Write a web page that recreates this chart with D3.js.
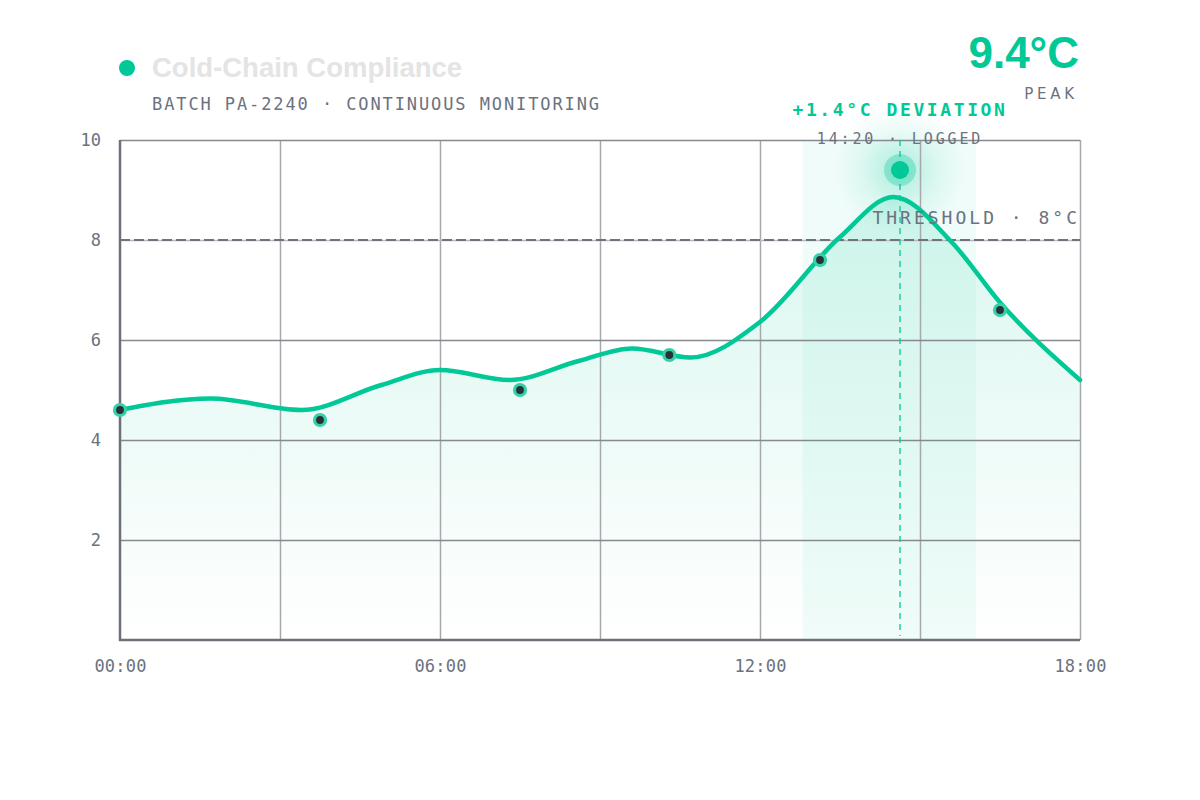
<!DOCTYPE html>
<html>
<head>
<meta charset="utf-8">
<script src="https://cdn.jsdelivr.net/npm/d3@7/dist/d3.min.js"></script>
<style>
  html, body { margin: 0; padding: 0; background: #ffffff; }
  svg { display: block; }
  .mono { font-family: "DejaVu Sans Mono", monospace; }
</style>
</head>
<body>
<svg id="chart" width="1200" height="800"></svg>
<script>
// ---- data ----
const trendHours  = [0, 1.7, 3.4, 4.9, 6.0, 7.3, 8.6, 9.6, 10.7, 12.0, 13.5, 14.5, 15.6, 16.5, 18];
const trendTemps  = [4.6, 4.83, 4.6, 5.1, 5.4, 5.2, 5.58, 5.83, 5.65, 6.36, 8.06, 8.86, 7.95, 6.75, 5.2];
const readingHours = [0, 3.75, 7.5, 10.3, 13.125, 16.5];
const readingTemps = [4.6, 4.4, 5.0, 5.7, 7.6, 6.6];
const peakHour = 14.625;
const peakTemp = 9.4;
const threshold = 8;
const bandStart = 12.8;
const bandEnd = 16.05;
const xTickHours = [0, 6, 12, 18];
const xTickLabels = ["00:00", "06:00", "12:00", "18:00"];
const xGridHours = [3, 6, 9, 12, 15, 18];
const yTickValues = [2, 4, 6, 8, 10];
const yGridValues = [2, 4, 6, 8, 10];
const titleText = "Cold-Chain Compliance";
const subtitleText = "BATCH PA-2240 · CONTINUOUS MONITORING";
const peakLabel = "9.4°C";
const peakSub = "PEAK";
const deviationText = "+1.4°C DEVIATION";
const loggedText = "14:20 · LOGGED";
const thresholdText = "THRESHOLD · 8°C";

const GREEN = "#00c896";
const GRAY_TEXT = "#6b7280";

const svg = d3.select("#chart");
const x = d3.scaleLinear().domain([0, 18]).range([120, 1080]);
const y = d3.scaleLinear().domain([0, 10]).range([640, 140]);

const defs = svg.append("defs");
const ag = defs.append("linearGradient").attr("id", "areaGrad")
  .attr("gradientUnits", "userSpaceOnUse").attr("x1", 0).attr("x2", 0)
  .attr("y1", y(10)).attr("y2", y(0));
ag.append("stop").attr("offset", "0%").attr("stop-color", GREEN).attr("stop-opacity", 0.17);
ag.append("stop").attr("offset", "100%").attr("stop-color", GREEN).attr("stop-opacity", 0.0);

const glow = defs.append("radialGradient").attr("id", "glow");
glow.append("stop").attr("offset", "0%").attr("stop-color", GREEN).attr("stop-opacity", 0.28);
glow.append("stop").attr("offset", "60%").attr("stop-color", GREEN).attr("stop-opacity", 0.08);
glow.append("stop").attr("offset", "100%").attr("stop-color", GREEN).attr("stop-opacity", 0);

const trend = trendHours.map((h, i) => ({h, v: trendTemps[i]}));
const readings = readingHours.map((h, i) => ({h, v: readingTemps[i]}));

// band
svg.append("rect")
  .attr("x", x(bandStart)).attr("y", y(10))
  .attr("width", x(bandEnd) - x(bandStart)).attr("height", y(0) - y(10))
  .attr("fill", GREEN).attr("fill-opacity", 0.06);

// area
const area = d3.area().curve(d3.curveMonotoneX)
  .x(d => x(d.h)).y0(y(0)).y1(d => y(d.v));
svg.append("path").datum(trend).attr("d", area).attr("fill", "url(#areaGrad)");

// glow
svg.append("circle").attr("cx", x(peakHour)).attr("cy", y(peakTemp)).attr("r", 66)
  .attr("fill", "url(#glow)");

// vertical grid
svg.append("g").attr("transform", `translate(0,${y(0)})`)
  .call(d3.axisBottom(x).tickValues(xGridHours).tickSize(-(y(0) - y(10))).tickFormat(""))
  .call(g => g.select(".domain").remove())
  .call(g => g.selectAll(".tick line").attr("stroke", "#a6a8ac").attr("stroke-width", 1.5));

// horizontal grid
svg.append("g").attr("transform", `translate(${x(0)},0)`)
  .call(d3.axisLeft(y).tickValues(yGridValues).tickSize(-(x(18) - x(0))).tickFormat(""))
  .call(g => g.select(".domain").remove())
  .call(g => g.selectAll(".tick line")
    .attr("stroke", d => d === threshold ? "#b4b7bb" : "#86898e")
    .attr("stroke-width", 1.5));

// threshold dashed
svg.append("line")
  .attr("x1", x(0)).attr("x2", x(18)).attr("y1", y(threshold)).attr("y2", y(threshold))
  .attr("stroke", "#6e737c").attr("stroke-width", 2).attr("stroke-dasharray", "10,4");

// axes lines
svg.append("line").attr("x1", x(0)).attr("x2", x(0)).attr("y1", y(10)).attr("y2", y(0) + 1)
  .attr("stroke", "#6d7076").attr("stroke-width", 2.5);
svg.append("line").attr("x1", x(0) - 1).attr("x2", x(18)).attr("y1", y(0)).attr("y2", y(0))
  .attr("stroke", "#6d7076").attr("stroke-width", 2.5);

// peak vertical dashed
svg.append("line").attr("x1", x(peakHour)).attr("x2", x(peakHour))
  .attr("y1", y(10)).attr("y2", y(0) - 4)
  .attr("stroke", GREEN).attr("stroke-opacity", 0.65).attr("stroke-width", 2)
  .attr("stroke-dasharray", "6,5");

// line
const line = d3.line().curve(d3.curveMonotoneX).x(d => x(d.h)).y(d => y(d.v));
svg.append("path").datum(trend).attr("d", line)
  .attr("fill", "none").attr("stroke", GREEN).attr("stroke-width", 4.5)
  .attr("stroke-linecap", "round");

// readings
svg.append("g").selectAll("circle").data(readings).join("circle")
  .attr("cx", d => x(d.h)).attr("cy", d => y(d.v)).attr("r", 5.5)
  .attr("fill", "#263238").attr("stroke", "#34d1a5").attr("stroke-width", 3.2);

// peak marker
svg.append("circle").attr("cx", x(peakHour)).attr("cy", y(peakTemp)).attr("r", 16)
  .attr("fill", GREEN).attr("fill-opacity", 0.3);
svg.append("circle").attr("cx", x(peakHour)).attr("cy", y(peakTemp)).attr("r", 9)
  .attr("fill", GREEN);

// axis labels
svg.append("g").attr("transform", `translate(0,${y(0)})`)
  .call(d3.axisBottom(x).tickValues(xTickHours).tickSize(0).tickPadding(0)
    .tickFormat((d, i) => xTickLabels[i]))
  .call(g => g.select(".domain").remove())
  .call(g => g.selectAll(".tick text")
    .attr("class", "mono").attr("dy", 0).attr("y", 32)
    .attr("font-size", 17).attr("letter-spacing", 0.2).attr("fill", GRAY_TEXT));

svg.append("g").attr("transform", `translate(${x(0)},0)`)
  .call(d3.axisLeft(y).tickValues(yTickValues).tickSize(0).tickPadding(0).tickFormat(d3.format("d")))
  .call(g => g.select(".domain").remove())
  .call(g => g.selectAll(".tick text")
    .attr("class", "mono").attr("x", -19).attr("dy", "0.35em")
    .attr("font-size", 17).attr("fill", GRAY_TEXT));

// threshold label
svg.append("text").attr("class", "mono")
  .attr("x", 1080).attr("y", 224).attr("text-anchor", "end")
  .attr("font-size", 18).attr("letter-spacing", 3.0).attr("fill", GRAY_TEXT)
  .text(thresholdText);

// deviation annotation
svg.append("text").attr("class", "mono")
  .attr("x", x(peakHour)).attr("y", 116).attr("text-anchor", "middle")
  .attr("font-size", 18).attr("font-weight", "bold").attr("letter-spacing", 2.6)
  .attr("fill", GREEN).text(deviationText);
svg.append("text").attr("class", "mono")
  .attr("x", x(peakHour)).attr("y", 144).attr("text-anchor", "middle")
  .attr("font-size", 15).attr("letter-spacing", 2.85).attr("fill", GRAY_TEXT)
  .text(loggedText);

// title
svg.append("circle").attr("cx", 127).attr("cy", 68).attr("r", 8).attr("fill", GREEN);
svg.append("text").attr("x", 152).attr("y", 77)
  .attr("font-family", "'Liberation Sans', Arial, sans-serif")
  .attr("font-weight", "bold").attr("font-size", 27.5).attr("fill", "#e4e4e4")
  .text(titleText);
svg.append("text").attr("class", "mono").attr("x", 152).attr("y", 110)
  .attr("font-size", 17).attr("letter-spacing", 1.9).attr("fill", GRAY_TEXT)
  .text(subtitleText);

// peak headline
svg.append("text").attr("x", 1079).attr("y", 68).attr("text-anchor", "end")
  .attr("font-family", "'Liberation Sans', Arial, sans-serif")
  .attr("font-weight", "bold").attr("font-size", 44)
  .attr("fill", GREEN).text(peakLabel);
svg.append("text").attr("x", 1078).attr("y", 99).attr("text-anchor", "end")
  .attr("font-family", "'DejaVu Sans', sans-serif")
  .attr("font-size", 15).attr("letter-spacing", 3.8).attr("fill", GRAY_TEXT)
  .text(peakSub);
</script>
</body>
</html>
